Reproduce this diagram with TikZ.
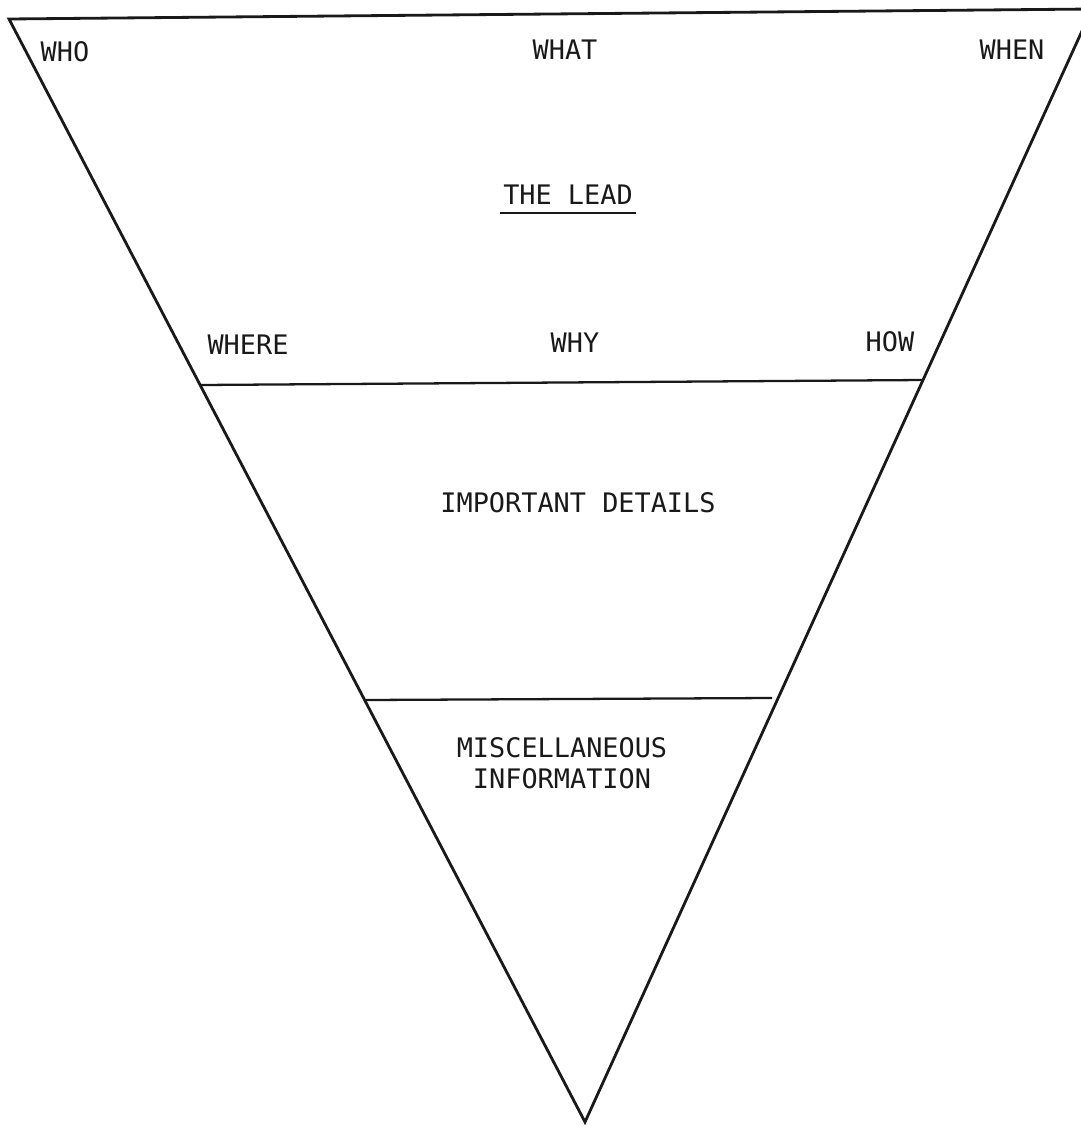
\documentclass[tikz,border=0pt]{standalone}
\usepackage{fontspec}
\usepackage{xcolor}
\usepackage{tikz}
\usetikzlibrary{positioning, calc}
\setmonofont{DejaVu Sans Mono}
\definecolor{myink}{RGB}{25,25,25}
\tikzset{
  side/.style={line width=1.6pt, color=myink, line join=miter},
  divider/.style={line width=1.3pt, color=myink},
  word/.style={font=\ttfamily\fontsize{15.3}{17.6}\selectfont, text=myink,
    inner sep=1.5pt, align=center}
}

\begin{document}
\begin{tikzpicture}[x=0.02cm, y=-0.02cm]
  \useasboundingbox (0,0) rectangle (1081,1126);
  \clip (0,0) rectangle (1081,1126);
  % Corners
  \coordinate (topleft) at (9,19);
  \coordinate (topright) at (1092,9);
  \coordinate (apex) at (585,1122);
  % Divider ends
  \coordinate (leadL) at (201,385);
  \coordinate (leadR) at (923,380);
  \coordinate (detailL) at (366,700);
  \coordinate (detailR) at (772,698);
  % Triangle
  \draw[side] (topright) -- (topleft) -- (apex) -- cycle;
  % Dividers
  \draw[divider] (leadL) -- (leadR);
  \draw[divider] (detailL) -- (detailR);
  % Lead
  \node[word] (who) at (65,52) {WHO};
  \node[word] (what) at (565,50) {WHAT};
  \node[word] (when) at (1012,50) {WHEN};
  \node[word] (lead) at (568,195) {THE LEAD};
  \draw[divider, line width=1.1pt] ([yshift=-0.16cm]lead.base west) -- ([yshift=-0.16cm]lead.base east);
  \node[word] (where) at (248,345) {WHERE};
  \node[word] (why) at (575,343) {WHY};
  \node[word] (how) at (890,342) {HOW};
  % Body
  \node[word] (details) at (578,503) {IMPORTANT DETAILS};
  \node[word] (misc) at (562,763) {MISCELLANEOUS\\INFORMATION};
\end{tikzpicture}
\end{document}
